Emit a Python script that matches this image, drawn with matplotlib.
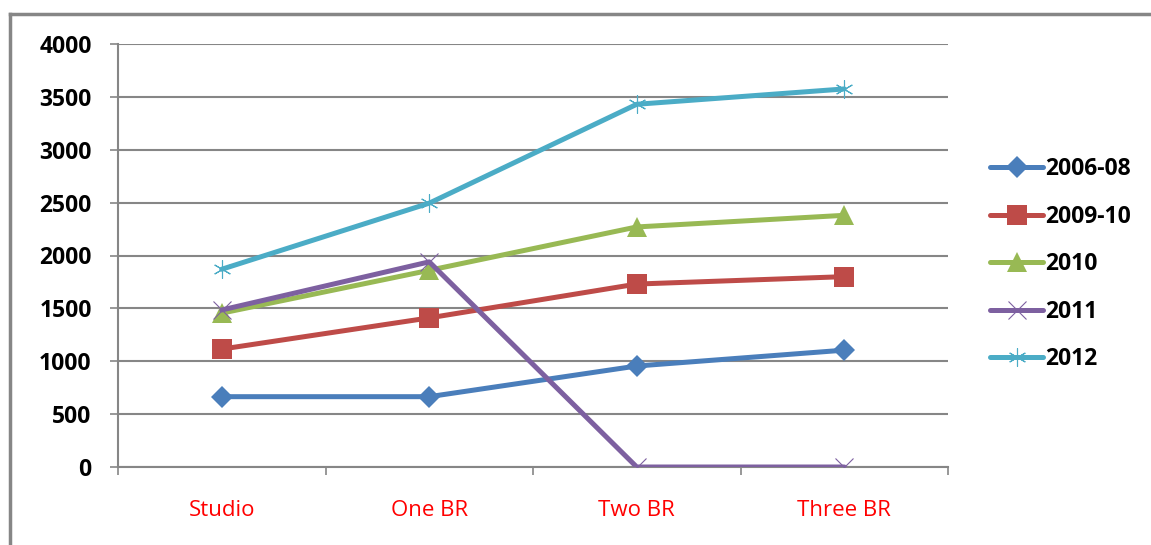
import matplotlib
matplotlib.use("Agg")
import matplotlib.pyplot as plt
from matplotlib.lines import Line2D

categories = ["Studio", "One BR", "Two BR", "Three BR"]
series_names = ["2006-08", "2009-10", "2010", "2011", "2012"]
v_2006_08 = [665, 665, 955, 1105]
v_2009_10 = [1115, 1410, 1730, 1800]
v_2010 = [1455, 1860, 2270, 2380]
v_2011 = [1485, 1940, 0, 0]
v_2012 = [1870, 2495, 3430, 3575]
yticks = [0, 500, 1000, 1500, 2000, 2500, 3000, 3500, 4000]

colors = ["#4A7EBB", "#BE4B48", "#98B954", "#7D60A0", "#4BACC6"]
markers = ["D", "s", "^", "x", (6, 2, 0)]
msizes = [11.5, 14, 14, 13, 13]

plt.rcParams['font.family'] = ['Open Sans', 'DejaVu Sans']

fig = plt.figure(figsize=(11.51, 5.45), dpi=100)
ax = fig.add_axes([118/1151, 1 - 467/545, (948 - 118)/1151, (467 - 44)/545])

grey = "#868686"
x = range(len(categories))
for vals, name, c, m, ms in zip([v_2006_08, v_2009_10, v_2010, v_2011, v_2012],
                                series_names, colors, markers, msizes):
    thin = m == "x" or isinstance(m, tuple)
    ax.plot(x, vals, color=c, linewidth=3.6, marker=m, markersize=ms,
            markeredgewidth=0.8 if thin else 0, markerfacecolor=c,
            markeredgecolor=c, label=name, solid_capstyle="round", zorder=3)

ax.set_xlim(-0.5, 3.5)
ax.set_ylim(0, 4000)
ax.set_yticks(yticks)
ax.set_yticklabels([str(v) for v in yticks], fontsize=16.5, fontweight="bold")
ax.set_xticks(list(x))
ax.set_xticklabels(categories, fontsize=16, color="#FF0000")
ax.set_xticks([-0.5, 0.5, 1.5, 2.5, 3.5], minor=True)
ax.tick_params(axis="x", which="major", length=0, pad=24)
ax.tick_params(axis="x", which="minor", length=6, color=grey, width=1.2, direction="out")
ax.tick_params(axis="y", length=6, color=grey, width=1.2, pad=13)

ax.grid(axis="y", color=grey, linewidth=1.5)
ax.set_axisbelow(True)
for s in ["top", "right"]:
    ax.spines[s].set_visible(False)
for s in ["left", "bottom"]:
    ax.spines[s].set_color(grey)
    ax.spines[s].set_linewidth(1.5)

leg = ax.legend(loc="upper left", bbox_to_anchor=(979/1151, 1 - 146/545),
                bbox_transform=fig.transFigure, frameon=False,
                prop={"weight": "bold", "size": 16.5}, handlelength=2.3,
                labelspacing=1.02, handletextpad=0.1, borderpad=0)

# outer chart border (top and left)
fig.add_artist(Line2D([10/1151, 1], [1 - 14/545, 1 - 14/545], color=grey, linewidth=2.5))
fig.add_artist(Line2D([10/1151, 10/1151], [0, 1 - 14/545], color=grey, linewidth=2.5))

fig.savefig("out.png", dpi=100)
